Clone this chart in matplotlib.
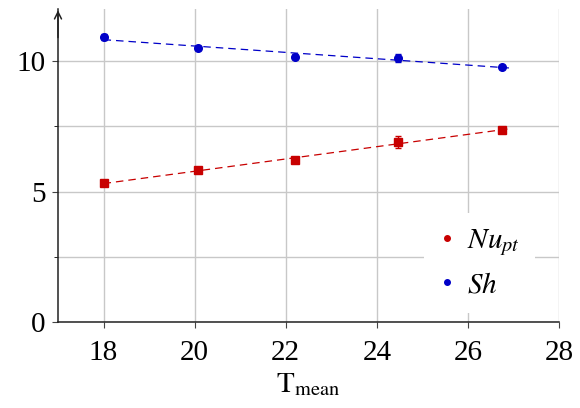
import numpy as np
import matplotlib.pyplot as plt
from matplotlib.lines import Line2D
from matplotlib.ticker import MultipleLocator

plt.rcParams['font.family'] = ['Liberation Serif', 'DejaVu Serif']
plt.rcParams['mathtext.fontset'] = 'stix'

t_mean = [18.0, 20.07, 22.21, 24.47, 26.75]
nu_pt = [5.33, 5.81, 6.20, 6.91, 7.36]
nu_err = [0.08, 0.08, 0.12, 0.22, 0.12]
sh = [10.93, 10.50, 10.18, 10.12, 9.78]
sh_err = [0.10, 0.07, 0.09, 0.16, 0.07]

red = '#c80000'
blue = '#0000c8'

fig = plt.figure(figsize=(5.8, 4.08), dpi=100)
ax = fig.add_axes([0.1, 0.2108, 0.8638, 0.767])
ax.set_xlim(17, 28)
ax.set_ylim(0, 12)

ax.set_xticks(range(18, 29, 2))
ax.yaxis.set_major_locator(MultipleLocator(5))
ax.yaxis.set_minor_locator(MultipleLocator(2.5))
ax.grid(True, which='both', color='#c8c8c8', linewidth=1)
ax.set_axisbelow(True)

for s in ['top', 'right']:
    ax.spines[s].set_visible(False)
for s in ['left', 'bottom']:
    ax.spines[s].set_linewidth(1.1)
    ax.spines[s].set_color('#222222')

ax.tick_params(axis='both', labelsize=21, color='#444444')
ax.tick_params(axis='x', direction='out', length=4, pad=9)
ax.tick_params(axis='y', which='major', direction='out', length=4, pad=5)
ax.tick_params(axis='y', which='minor', direction='out', length=3)

ax.annotate('', xy=(0, 1.005), xytext=(0, 0.9), xycoords='axes fraction',
            arrowprops=dict(arrowstyle='->,head_length=0.5,head_width=0.25', lw=1.1, color='#222222'))

xs = np.array(t_mean)
xfit = np.linspace(xs.min(), xs.max() + 0.15, 2)
for ys, err, c, m in [(nu_pt, nu_err, red, 's'), (sh, sh_err, blue, 'o')]:
    p = np.polyfit(xs, ys, 1)
    ax.plot(xfit, np.polyval(p, xfit), linestyle=(0, (6, 4)), color=c, linewidth=0.9)
    ax.errorbar(xs, ys, yerr=err, fmt=m, color=c, markersize=5.5, capsize=2.5,
                elinewidth=1, capthick=1)

ax.set_xlabel(r'$\mathrm{T}_{\mathrm{mean}}$', fontsize=21, labelpad=4)

handles = [Line2D([], [], marker='o', color=red, linestyle='none', markersize=4),
           Line2D([], [], marker='o', color=blue, linestyle='none', markersize=4)]
leg = ax.legend(handles, [r'$Nu_{pt}$', r'$Sh$'], loc='lower right',
                bbox_to_anchor=(0.952, 0.03), frameon=True, fontsize=21,
                handlelength=0.6, handletextpad=0.4, labelspacing=0.45,
                borderpad=0.5, borderaxespad=0)
leg.get_frame().set_edgecolor('none')
leg.get_frame().set_facecolor('white')
leg.get_frame().set_alpha(1)

fig.savefig('out.png', dpi=100)
